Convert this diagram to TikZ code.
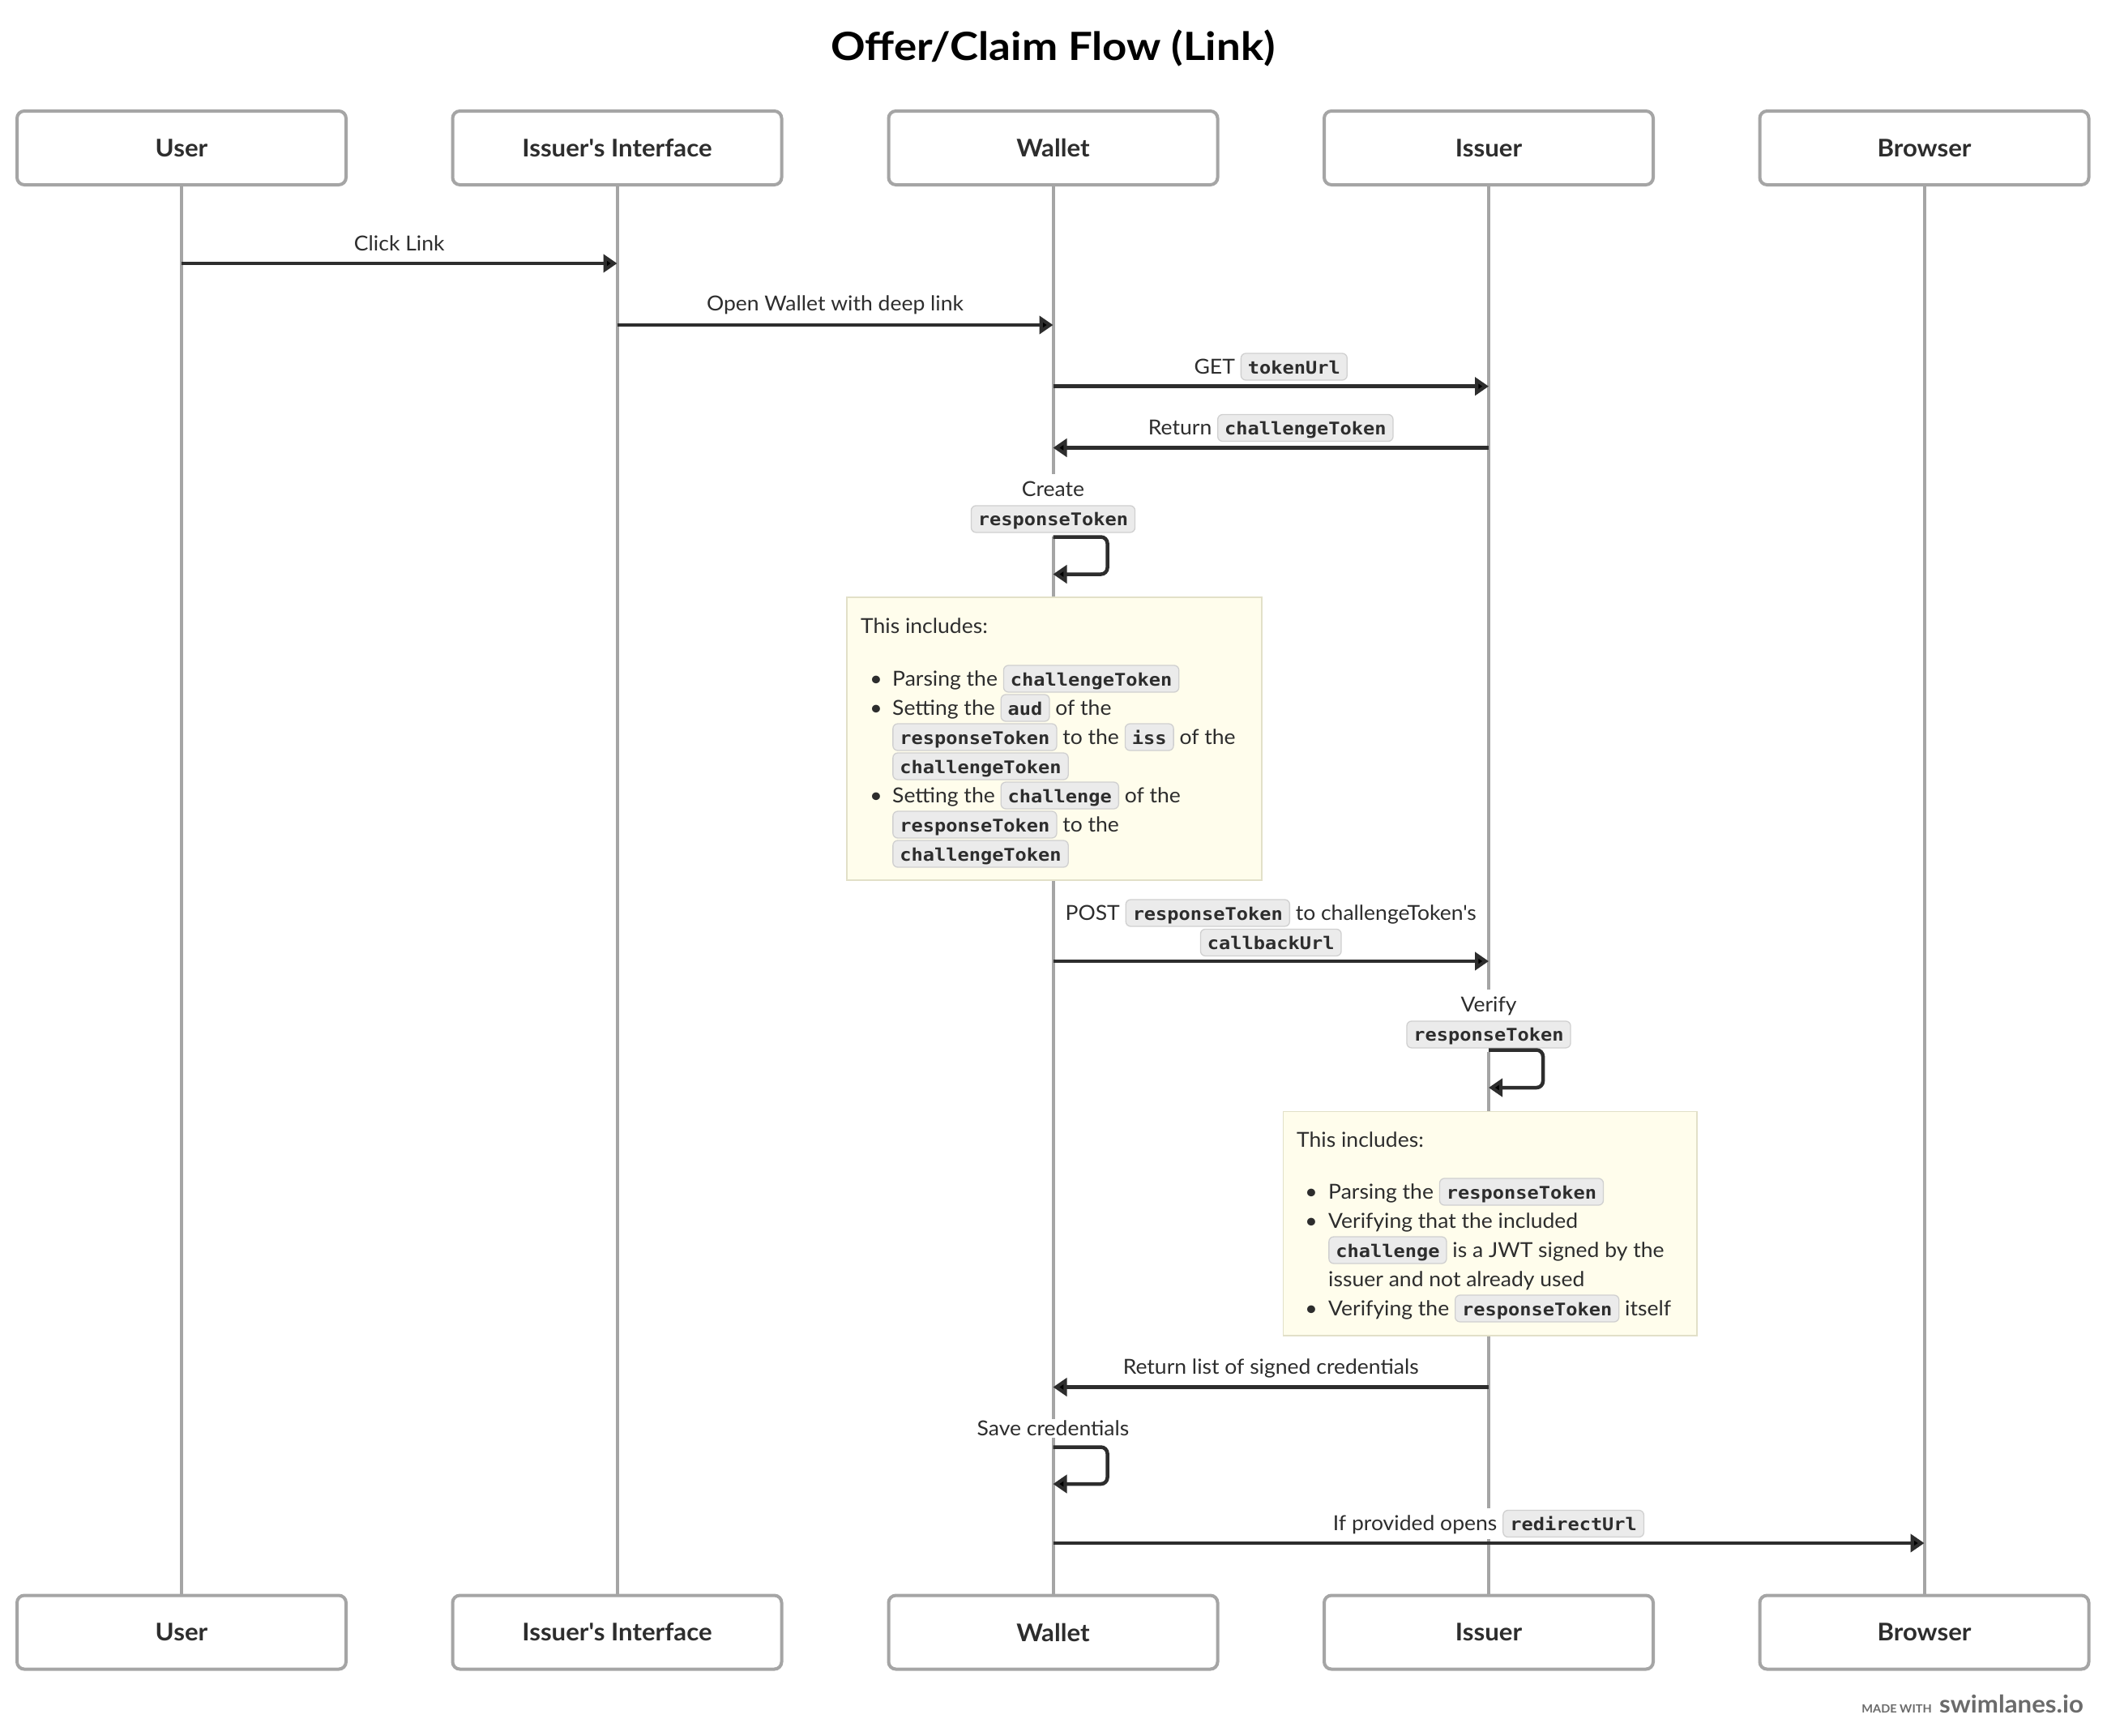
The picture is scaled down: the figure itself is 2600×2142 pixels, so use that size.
\documentclass[tikz,border=0pt]{standalone}
\usepackage{fontspec}
\newfontfamily\mainsans{Lato}[FakeStretch=1.04]
\newfontfamily\titlefont{Lato}[FakeStretch=1.1]
\newfontfamily\codefont{DejaVu Sans Mono}[FakeStretch=1.1]
\usetikzlibrary{arrows.meta}

\definecolor{ink}{HTML}{2D2D2D}
\definecolor{rule}{HTML}{A5A5A5}
\definecolor{chipbg}{HTML}{EBEBEB}
\definecolor{chipline}{HTML}{D0D0D0}
\definecolor{notebg}{HTML}{FFFDEC}
\definecolor{noteline}{HTML}{E2E0C8}
\definecolor{footgray}{HTML}{6B6B6B}

\newcommand\lblfont{\fontsize{25.5}{36}\selectfont}
\newcommand\code[1]{\tikz[baseline=(chip.base)]\node[chipnode](chip){#1};}
\newcommand\twolines[2]{\begin{tabular}[t]{@{}c@{}}#1\\#2\end{tabular}}

\tikzset{
  chipnode/.style={inner xsep=8.5pt, inner ysep=3pt, text height=22pt, text depth=5pt,
    fill=chipbg, draw=chipline, line width=1.3pt, rounded corners=6pt,
    font=\codefont\bfseries\fontsize{21.5}{21.5}\selectfont, text=ink},
  actor/.style={draw=rule, line width=4pt, rounded corners=9pt, fill=white,
    minimum width=406pt, minimum height=91pt, inner sep=0pt,
    font=\bfseries\fontsize{30}{30}\selectfont, text=ink},
  life/.style={draw=rule, line width=4pt},
  msg/.style={draw=ink, line width=4.5pt, -{Triangle[length=17pt,width=22pt]}},
  loopmsg/.style={msg, rounded corners=8pt},
  label/.style={fill=white, inner xsep=3pt, inner ysep=2pt, font=\lblfont, text=ink, anchor=base},
  note/.style={fill=notebg, draw=noteline, line width=1.5pt, anchor=north west, inner sep=0pt},
  notetext/.style={inner sep=0pt, anchor=base west, font=\lblfont, text=ink},
  dot/.style={inner sep=0pt, anchor=base, font=\lblfont, text=ink},
}

\begin{document}
\mainsans
\begin{tikzpicture}[x=1pt, y=-1pt]
\fill[white] (0,0) rectangle (2600,2142);
\useasboundingbox (0,0) rectangle (2600,2142);

% title
\node[font=\titlefont\bfseries\fontsize{48}{48}\selectfont, text=black, anchor=base, inner sep=0pt] (title) at (1299.5,74) {Offer/Claim Flow (Link)};

% participants, top and bottom
\node[actor] (user-top)    at (224,182.5)    {User};
\node[actor] (iface-top)   at (761.5,182.5)  {Issuer's Interface};
\node[actor] (wallet-top)  at (1299.5,182.5) {Wallet};
\node[actor] (issuer-top)  at (1837,182.5)   {Issuer};
\node[actor] (browser-top) at (2374.5,182.5) {Browser};
\node[actor] (user-bot)    at (224,2014)     {User};
\node[actor] (iface-bot)   at (761.5,2014)   {Issuer's Interface};
\node[actor] (wallet-bot)  at (1299.5,2014)  {Wallet};
\node[actor] (issuer-bot)  at (1837,2014)    {Issuer};
\node[actor] (browser-bot) at (2374.5,2014)  {Browser};

% lifelines
\draw[life] (user-top.south) -- (user-bot.north);
\draw[life] (iface-top.south) -- (iface-bot.north);
\draw[life] (wallet-top.south) -- (wallet-bot.north);
\draw[life] (issuer-top.south) -- (issuer-bot.north);
\draw[life] (browser-top.south) -- (browser-bot.north);

% message rows
\coordinate (m1) at (0,325);
\coordinate (m2) at (0,401);
\coordinate (m3) at (0,476.7);
\coordinate (m4) at (0,552.5);
\coordinate (s1a) at (0,662.5);
\coordinate (s1b) at (0,708.5);
\coordinate (m5) at (0,1186);
\coordinate (s2a) at (0,1295.5);
\coordinate (s2b) at (0,1342);
\coordinate (m6) at (0,1711.5);
\coordinate (s3a) at (0,1785.5);
\coordinate (s3b) at (0,1831);
\coordinate (m7) at (0,1904);

% labels
\node[label] (l1) at (492.75,309.3) {Click Link};
\node[label] (l2) at (1030.5,383.5) {Open Wallet with deep link};
\node[label] (l3) at (1568.25,461) {GET \code{tokenUrl}};
\node[label] (l4) at (1568.25,536.5) {Return \code{challengeToken}};
\node[label] (l5) at (1299.5,612.5) {\twolines{Create}{\code{responseToken}}};
\node[label] (l6) at (1568.25,1135) {\twolines{POST \code{responseToken} to challengeToken's}{\code{callbackUrl}}};
\node[label] (l7) at (1837,1248.5) {\twolines{Verify}{\code{responseToken}}};
\node[label] (l8) at (1568.25,1695.7) {Return list of signed credentials};
\node[label] (l9) at (1299.5,1771.7) {Save credentials};
\node[label] (l10) at (1837,1888.5) {If provided opens \code{redirectUrl}};

% messages
\draw[msg] (user-top |- m1) -- (iface-top |- m1);
\draw[msg] (iface-top |- m2) -- (wallet-top |- m2);
\draw[msg] (wallet-top |- m3) -- (issuer-top |- m3);
\draw[msg] (issuer-top |- m4) -- (wallet-top |- m4);
\draw[loopmsg] (wallet-top |- s1a) -- ++(67,0) |- (wallet-top |- s1b);
\draw[msg] (wallet-top |- m5) -- (issuer-top |- m5);
\draw[loopmsg] (issuer-top |- s2a) -- ++(67,0) |- (issuer-top |- s2b);
\draw[msg] (issuer-top |- m6) -- (wallet-top |- m6);
\draw[loopmsg] (wallet-top |- s3a) -- ++(67,0) |- (wallet-top |- s3b);
\draw[msg] (wallet-top |- m7) -- (browser-top |- m7);

% note on the wallet
\node[note, minimum width=512pt, minimum height=349pt] (note1) at (1044,736) {};
\node[notetext] (n1h) at (1062,781) {This includes:};
\node[dot] (n1b1) at (1081,846) {\textbullet};
\node[notetext] (n1l1) at (1101,846) {Parsing the \code{challengeToken}};
\node[dot] (n1b2) at (1081,882) {\textbullet};
\node[notetext] (n1l2) at (1101,882) {Setting the \code{aud} of the};
\node[notetext] (n1l3) at (1101,918) {\code{responseToken} to the \code{iss} of the};
\node[notetext] (n1l4) at (1101,954) {\code{challengeToken}};
\node[dot] (n1b3) at (1081,990) {\textbullet};
\node[notetext] (n1l5) at (1101,990) {Setting the \code{challenge} of the};
\node[notetext] (n1l6) at (1101,1026) {\code{responseToken} to the};
\node[notetext] (n1l7) at (1101,1062) {\code{challengeToken}};

% note on the issuer
\node[note, minimum width=510.5pt, minimum height=276.5pt] (note2) at (1582.5,1370.5) {};
\node[notetext] (n2h) at (1600,1415) {This includes:};
\node[dot] (n2b1) at (1618,1479) {\textbullet};
\node[notetext] (n2l1) at (1639,1479) {Parsing the \code{responseToken}};
\node[dot] (n2b2) at (1618,1515) {\textbullet};
\node[notetext] (n2l2) at (1639,1515) {Verifying that the included};
\node[notetext] (n2l3) at (1639,1551) {\code{challenge} is a JWT signed by the};
\node[notetext] (n2l4) at (1639,1587) {issuer and not already used};
\node[dot] (n2b3) at (1618,1623) {\textbullet};
\node[notetext] (n2l5) at (1639,1623) {Verifying the \code{responseToken} itself};

% footer
\node[anchor=base east, inner sep=0pt, font=\bfseries\fontsize{30}{30}\selectfont, text=footgray] (brand) at (2571,2113) {swimlanes.io};
\node[anchor=base east, inner sep=0pt, font=\bfseries\fontsize{14}{14}\selectfont, text=footgray] (madewith) at ([xshift=-9pt]brand.base west) {MADE WITH};
\end{tikzpicture}
\end{document}
